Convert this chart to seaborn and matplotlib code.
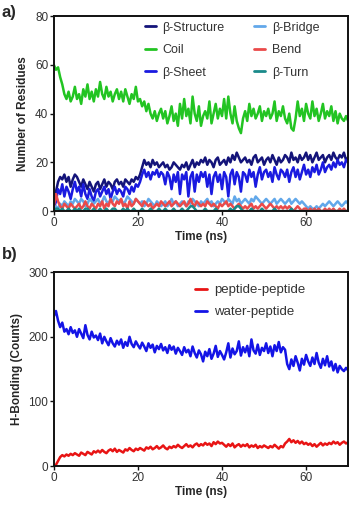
import numpy as np
import pandas as pd
import seaborn as sns
import matplotlib.pyplot as plt

# =========================
# DATA (0.5 ns steps)
# =========================

time_ns = [i * 0.5 for i in range(141)]

coil = [60, 58, 59, 55, 52, 48, 46, 49, 45, 47, 51,
        46, 48, 44, 50, 47, 52, 46, 49, 45, 50,
        47, 53, 48, 46, 51, 47, 49, 45, 48, 50,
        46, 49, 45, 50, 47, 44, 48, 46, 51, 45,
        46, 43, 45, 41, 44, 40, 38, 41, 37, 40,
        42, 38, 41, 36, 39, 43, 37, 40, 35, 44,
        38, 46, 39, 42, 36, 47, 40, 37, 43, 35,
        39, 41, 38, 45, 36, 40, 44, 38, 42, 39,
        46, 38, 47, 40, 36, 43, 37, 34, 32, 38,
        41, 37, 44, 39, 42, 38, 40, 43, 37, 41,
        39, 42, 38, 40, 45, 37, 41, 39, 43, 38,
        36, 40, 34, 33, 38, 45, 39, 42, 37, 44,
        40, 38, 45, 39, 42, 37, 40, 44, 38, 41,
        39, 43, 37, 41, 36, 40, 38, 37, 39, 37]

beta_structure = [3, 8, 12, 14, 13, 15, 12, 14, 10, 13, 15,
                  14, 12, 10, 13, 11, 9, 12, 10, 8, 11,
                  12, 9, 11, 13, 10, 12, 11, 9, 12, 13,
                  11, 12, 10, 13, 12, 11, 13, 12, 14, 13,
                  15, 18, 21, 19, 20, 18, 21, 19, 20, 18,
                  19, 20, 18, 19, 17, 18, 20, 19, 18, 17,
                  19, 18, 20, 17, 19, 21, 18, 20, 19, 21,
                  20, 22, 19, 21, 20, 18, 21, 22, 19, 20,
                  21, 19, 22, 20, 23, 21, 24, 22, 20, 21,
                  22, 20, 21, 19, 22, 23, 20, 21, 22, 19,
                  21, 22, 20, 23, 21, 19, 22, 20, 21, 23,
                  22, 20, 24, 21, 22, 20, 23, 21, 22, 24,
                  21, 23, 20, 22, 24, 21, 22, 23, 20, 22,
                  23, 21, 24, 22, 21, 23, 22, 24, 21, 22]

beta_sheet = [1, 4, 9, 7, 11, 6, 10, 8, 5, 9, 12,
              8, 10, 6, 11, 7, 5, 9, 6, 4, 8,
              9, 6, 8, 10, 7, 9, 5, 8, 10, 7,
              9, 8, 6, 10, 9, 7, 10, 8, 11, 10,
              12, 15, 17, 14, 16, 13, 16, 15, 17, 14,
              16, 15, 11, 16, 14, 9, 15, 12, 16, 7,
              15, 13, 16, 6, 14, 16, 8, 15, 12, 16,
              14, 16, 10, 15, 7, 14, 16, 12, 15, 9,
              16, 14, 6, 15, 17, 11, 16, 14, 8, 16,
              15, 12, 17, 14, 16, 10, 15, 18, 13, 16,
              17, 14, 16, 12, 18, 15, 13, 17, 16, 14,
              17, 12, 16, 18, 14, 17, 13, 16, 19, 15,
              17, 14, 18, 16, 19, 15, 17, 20, 16, 18,
              19, 17, 20, 18, 21, 19, 20, 18, 21, 20]

beta_bridge = [0, 2, 1, 3, 2, 4, 3, 2, 4, 3, 5,
               4, 3, 5, 4, 2, 3, 5, 4, 3, 4,
               5, 3, 4, 6, 4, 3, 5, 4, 6, 5,
               4, 5, 3, 4, 6, 5, 4, 3, 5, 4,
               3, 4, 2, 3, 5, 4, 3, 2, 4, 3,
               2, 3, 4, 2, 3, 5, 3, 4, 2, 3,
               4, 3, 2, 4, 3, 5, 4, 3, 2, 4,
               3, 4, 5, 3, 4, 2, 3, 4, 3, 5,
               4, 3, 5, 4, 3, 6, 4, 5, 3, 4,
               5, 4, 3, 5, 4, 6, 5, 4, 3, 4,
               5, 4, 3, 4, 5, 3, 4, 5, 4, 3,
               4, 5, 3, 4, 5, 4, 3, 4, 3, 2,
               1, 2, 1, 1, 2, 1, 2, 3, 2, 3,
               4, 3, 2, 3, 4, 3, 2, 3, 4, 3]

bend = [2, 7, 4, 2, 1, 3, 2, 1, 3, 2, 1,
        2, 3, 1, 2, 4, 2, 1, 3, 2, 1,
        3, 2, 4, 1, 3, 2, 5, 3, 2, 4,
        3, 5, 2, 3, 1, 4, 2, 3, 5, 4,
        3, 2, 4, 3, 2, 3, 1, 2, 3, 2,
        4, 3, 2, 3, 4, 2, 3, 4, 3, 2,
        3, 4, 2, 3, 5, 3, 2, 4, 3, 2,
        3, 2, 4, 3, 2, 3, 2, 1, 3, 2,
        3, 4, 2, 3, 2, 1, 2, 3, 2, 1,
        2, 1, 2, 3, 1, 2, 1, 2, 3, 2,
        1, 2, 3, 2, 1, 2, 1, 2, 1, 2,
        1, 2, 1, 0, 1, 2, 1, 0, 1, 1,
        0, 1, 0, 1, 0, 1, 0, 0, 1, 0,
        1, 0, 1, 0, 0, 1, 0, 1, 0, 0]

beta_turn = [0, 1, 1, 0, 1, 0, 0, 1, 0, 0, 1,
             0, 1, 0, 0, 1, 1, 0, 0, 1, 0,
             0, 1, 0, 0, 1, 0, 0, 1, 1, 0,
             0, 0, 1, 0, 1, 0, 0, 1, 0, 0,
             0, 1, 0, 0, 0, 1, 0, 0, 0, 1,
             0, 0, 1, 0, 0, 0, 1, 0, 0, 0,
             1, 0, 0, 1, 2, 2, 1, 0, 0, 0,
             0, 1, 0, 0, 0, 0, 1, 0, 0, 0,
             0, 0, 0, 1, 0, 1, 2, 2, 1, 0,
             0, 0, 0, 1, 0, 0, 0, 0, 1, 0,
             0, 0, 0, 0, 1, 0, 0, 0, 0, 0,
             0, 0, 1, 0, 0, 0, 0, 0, 0, 0,
             0, 0, 0, 0, 0, 0, 0, 0, 0, 0,
             0, 0, 0, 0, 0, 0, 0, 0, 0, 0]

water_peptide = [232, 240, 225, 215, 222, 208, 212, 204, 215, 206, 210,
                 200, 212, 205, 198, 218, 203, 196, 208, 199, 202,
                 195, 205, 190, 200, 193, 187, 198, 190, 185, 194,
                 188, 196, 183, 192, 186, 200, 189, 184, 193, 187,
                 182, 191, 185, 178, 190, 183, 188, 176, 186, 181,
                 189, 179, 184, 175, 187, 180, 185, 174, 183, 178,
                 172, 184, 176, 180, 170, 185, 175, 168, 179, 173,
                 162, 177, 170, 181, 166, 174, 186, 169, 178, 172,
                 165, 176, 190, 168, 182, 173, 178, 193, 171, 184,
                 176, 186, 170, 196, 179, 174, 188, 172, 183, 178,
                 190, 175, 185, 170, 187, 178, 192, 176, 184, 180,
                 158, 150, 165, 155, 170, 160, 148, 166, 157, 172,
                 162, 155, 168, 158, 175, 160, 152, 166, 156, 170,
                 154, 162, 148, 158, 145, 155, 150, 147, 152, 148]

peptide_peptide = [0, 2, 8, 14, 17, 15, 18, 16, 19, 17, 20,
                   18, 16, 21, 19, 17, 22, 20, 18, 23, 21,
                   24, 21, 25, 22, 20, 24, 26, 23, 27, 22,
                   25, 23, 21, 26, 24, 28, 25, 23, 27, 25,
                   28, 26, 24, 29, 27, 30, 26, 28, 31, 27,
                   29, 32, 28, 26, 30, 28, 31, 29, 33, 30,
                   28, 31, 34, 30, 32, 29, 33, 35, 31, 34,
                   32, 36, 33, 35, 31, 37, 34, 38, 35, 36,
                   33, 30, 34, 31, 35, 29, 32, 34, 30, 33,
                   31, 34, 29, 32, 30, 33, 28, 31, 29, 32,
                   30, 28, 31, 29, 33, 30, 27, 31, 29, 35,
                   38, 42, 37, 40, 36, 39, 35, 38, 34, 36,
                   33, 35, 31, 34, 30, 33, 36, 32, 35, 33,
                   36, 34, 38, 35, 37, 33, 36, 38, 35, 37]

structure_names = ["β-Structure", "Coil", "β-Sheet", "β-Bridge", "Bend", "β-Turn"]
structure_colors = ["#14147a", "#22c422", "#1a1ae0", "#62a8ea", "#ea4a4a", "#1a8a8a"]
hbond_names = ["peptide-peptide", "water-peptide"]
hbond_colors = ["#e81414", "#1414e6"]

# =========================
# STYLE
# =========================

sns.set_style("ticks")
plt.rcParams["font.family"] = ["Liberation Sans", "DejaVu Sans"]

df_a = pd.DataFrame({
    "time": time_ns,
    "β-Structure": beta_structure,
    "Coil": coil,
    "β-Sheet": beta_sheet,
    "β-Bridge": beta_bridge,
    "Bend": bend,
    "β-Turn": beta_turn,
}).melt(id_vars="time", var_name="kind", value_name="value")

df_b = pd.DataFrame({
    "time": time_ns,
    "peptide-peptide": peptide_peptide,
    "water-peptide": water_peptide,
}).melt(id_vars="time", var_name="kind", value_name="value")

fig = plt.figure(figsize=(3.52, 5.05), dpi=100)
ax_a = fig.add_axes([0.153, 0.582, 0.836, 0.386])
ax_b = fig.add_axes([0.153, 0.077, 0.836, 0.384])

sns.lineplot(data=df_a, x="time", y="value", hue="kind", hue_order=structure_names,
             palette=structure_colors, linewidth=1.8, ax=ax_a)
sns.lineplot(data=df_b, x="time", y="value", hue="kind", hue_order=hbond_names,
             palette=hbond_colors, linewidth=1.8, ax=ax_b)


def style_axis(ax, ymax, ystep, ylabel):
    ax.set_xlim(0, 70)
    ax.set_ylim(0, ymax)
    ax.set_xticks([0, 20, 40, 60])
    ax.set_yticks(np.arange(0, ymax + 1, ystep))
    ax.set_xlabel("Time (ns)", fontsize=8.5, fontweight="bold", labelpad=2)
    ax.set_ylabel(ylabel, fontsize=8.5, fontweight="bold", labelpad=4)
    ax.tick_params(axis="both", labelsize=8.5, length=3, width=1, pad=1,
                   colors="#111111", labelcolor="#333333")
    for side in ["top", "right", "left", "bottom"]:
        ax.spines[side].set_visible(True)
        ax.spines[side].set_linewidth(1.4)
        ax.spines[side].set_color("#111111")


style_axis(ax_a, 80, 20, "Number of Residues")
style_axis(ax_b, 300, 100, "H-Bonding (Counts)")

leg_a = ax_a.legend(ncol=2, loc="upper left", frameon=False, fontsize=9,
                    handlelength=0.9, handletextpad=0.5, columnspacing=2.4,
                    labelspacing=0.85, bbox_to_anchor=(0.27, 1.03),
                    labelcolor="#333333")
for line in leg_a.get_lines():
    line.set_linewidth(2)

leg_b = ax_b.legend(loc="upper left", frameon=False, fontsize=9.5,
                    handlelength=0.9, handletextpad=0.5, labelspacing=0.75,
                    bbox_to_anchor=(0.44, 1.0), labelcolor="#333333")
for line in leg_b.get_lines():
    line.set_linewidth(2)

fig.text(0.005, 0.975, "a)", fontsize=12, fontweight="bold", va="center", ha="left")
fig.text(0.005, 0.497, "b)", fontsize=12, fontweight="bold", va="center", ha="left")

plt.savefig("out.png", dpi=100)
plt.close()
